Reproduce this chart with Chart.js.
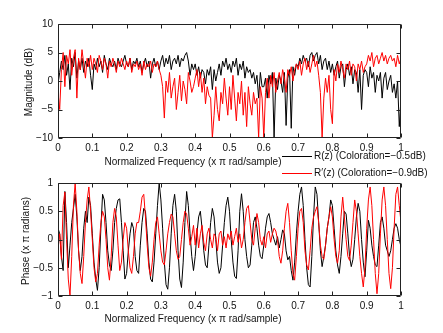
<!DOCTYPE html>
<html>
<head>
<meta charset="utf-8">
<script src="https://cdn.jsdelivr.net/npm/chart.js@4"></script>
<style>
body { margin:0; background:#fff; width:443px; height:333px; position:relative; overflow:hidden;
  font-family:"Liberation Sans", Arial, sans-serif; font-size:10px; color:#111; }
canvas { position:absolute; left:0; }
#magChart { top:0; }
#phaseChart { top:170px; }
.lbl { position:absolute; white-space:nowrap; line-height:12px; }
.xt { transform:translateX(-50%); }
.yt { transform:translate(-50%,-50%) rotate(-90deg); }
.key { position:absolute; width:30px; height:0; }
</style>
</head>
<body>
<canvas id="magChart" width="443" height="170"></canvas>
<canvas id="phaseChart" width="443" height="163"></canvas>

<div class="lbl yt" style="left:29px; top:82px">Magnitude (dB)</div>
<div class="lbl xt" style="left:193px; top:156px">Normalized Frequency (x π rad/sample)</div>
<div class="lbl yt" style="left:26px; top:241px">Phase (x π radians)</div>
<div class="lbl xt" style="left:193px; top:313px">Normalized Frequency (x π rad/sample)</div>

<div class="key" style="left:282px; top:156px; border-top:1px solid #000"></div>
<div class="lbl" style="left:314px; top:150px">R(z) (Coloration=−0.5dB)</div>
<div class="key" style="left:282px; top:173px; border-top:1px solid #f00"></div>
<div class="lbl" style="left:314px; top:167px">R′(z) (Coloration=−0.9dB)</div>

<script>
//data (frequency grid 0..1 step 0.005)
const freq = [];
for (let i = 0; i <= 200; i++) freq.push(i * 0.005);

const magR = [
  -0.5, 1.5, 3.5, 2, 4.5, 1, 3, -1.5, 4, 2.5, 5, 0.5, 3.5, 2, 4, 1.5, 3.5, 2.5, 4, 1,
  -1.5, 3, 2, 4, 2.5, 3.5, 1.5, 4.5, 3, 2, 4, 3, 2.5, 3.5, 2, 4, 3, 2.5, 3.5, 4.5,
  3, 2.5, 4, 2, 3.5, 3, 4, 2.5, 3.5, 1.5, 3, 4, 2.5, 3.5, 0.5, 3, 4, 2.5, 3.5, 2,
  3.5, 4.5, 2.5, 4, 3, 4.5, 2, 3.5, 4, 3, 4.5, 2.5, 4, 3.5, 4.5, 5, 3.5, 1, 3, 2,
  3, 1, 2.5, 0.5, 2, 1.5, -0.5, 2, 1, 2.5, -1.5, 2, 0, 1.5, 3, 1, 3.5, 2.5, 4, 2,
  3, 1.5, 3.5, 2.5, 4, 1, 3, 2, 3.5, 0.5, 2.5, 1.5, 2, 0.5, 1.5, -0.5, 1, -3, 1.5, -1,
  -1, 0.5, -3, 1, -0.5, 1.5, -10, 0.5, -1.5, 1, 0, -2, 1.5, -7.8, 0.5, 2, -8.3, 2.5, 1, 3,
  2.5, 4, 3, 4.5, 3.5, 4, 2.5, 4.5, 5, 3.5, 4.5, 5, 3, 4.5, 2, 3.5, 4, 2, 3.5, 1.5,
  3, 1, 2.5, 3.5, 0.5, 2.5, 3, -1, 2, 3, 1, 2.5, -0.5, 2, 1.5, -2, 2, -5, 1, 2,
  1.5, -1, 2.5, 0.5, 1.5, -2, 1, 0, 1.5, -3, 0.5, 1.5, -1.5, 0, 1, -2, -0.5, -3, 0, -8, -3
];

const magRp = [
  -2, -5, 2, 5, -1, 4.5, 3, 5.5, 1, 4, 5.5, -3, 4, 2, 5.5, 3, 0.5, 4, 2.5, 4.5,
  2, 4, 3, 1.5, 4.5, 3.5, 2, 4, 3, 0.5, 3.5, 2.5, 4, 3, 1.5, 3.5, 2.5, 4, 3, 2,
  3.5, 2.5, 4, 1.5, 3, 2.5, 3.5, 2, 3, 1, 3.5, 2, 3, 2.5, 3.5, 1.5, 3, 2.5, 3.5, 2,
  1, -1, -6.5, 0, -2, 1.5, -3, -1, 0.5, -5, -2, 1, -3.5, 0, -1.5, -4, 1.5, 0, -2, -1,
  0.5, 2, -1, 1.5, -2, 0.5, -4, -1, -2.5, -3, -10, -6, -1, -5, -7, -2, -4, 0.5, -3, -6,
  -1, -5, 1, -3, -7, -2, -4, 0, -6, -2, -8, -1, -4, -6, -2, -4, -3, -10, -1, -3,
  -10, -2, 0.5, -3, 1, -1, 1.5, -2, 0, 1.5, -0.5, 2, 0.5, -2, 2, 1, 2.5, 0, 2, 3,
  2, 3.5, 1, 3, 4, 2, 3.5, 1.5, 3, 4.5, 2.5, 3.5, 1, -2, -10, -3, 0.5, -2, 1, -5,
  -7.5, 2, 0, 3, 1.5, 3.5, 2, 0.5, 3, 2, 3.5, 1, 3, 2.5, 0, 3, 2, 3.5, 1.5, 2.5,
  3, 4.5, 3.5, 5, 2.5, 4, 4.5, 3, 4, 5, 3.5, 4.5, 3, 4, 4.5, 3.5, 4, 2.5, 4.5, 3, 4
];

const phaseR = [
  0.2, 0.1, -0.3, -0.55, 0.85, 0.3, -0.5, -0.1, 0.3, 0.55, 0.8, 0.4, -0.2, -0.55, -0.3, 0.2, 0.5, 0.3, 0.75, 0.6,
  0.1, -0.4, -0.7, -0.9, -0.5, 0.2, 0.8, 0.7, 0.3, -0.2, -0.45, -0.55, -0.2, 0.3, 0.55, 0.7, 0.72, 0.3, -0.2, -0.7,
  -0.6, -0.2, 0.1, 0.3, 0.2, -0.3, -0.55, -0.6, -0.1, 0.3, 0.55, 0.5, 0.1, -0.4, -0.7, -0.75, -0.4, 0.1, 0.6, 1.0,
  0.7, 0.2, -0.4, -0.8, -0.88, -0.5, 0.1, 0.6, 0.8, 0.5, -0.2, -0.7, -0.85, -0.4, 0.3, 0.85, 0.6, 0.1, -0.3, -0.55,
  -0.3, 0.1, 0.4, 0.5, 0.2, -0.2, -0.45, -0.5, -0.1, 0.3, 0.55, 0.4, 0.0, -0.4, -0.6, -0.5, -0.1, 0.3, 0.6, 0.75,
  0.5, 0.0, -0.4, -0.65, -0.69, -0.2, 0.5, 0.81, 0.5, 0.0, -0.3, -0.5, -0.45, -0.1, 0.3, 0.4, 0.2, -0.1, -0.3, -0.34,
  -0.1, 0.2, 0.4, 0.46, 0.3, 0.1, 0.0, -0.1, 0.05, -0.15, 0.0, 0.17, 0.1, -0.2, -0.36, -0.3, -0.55, -0.72, -0.4, 0.1,
  0.5, 0.8, 0.93, 0.6, 0.0, -0.5, -0.8, -0.84, -0.3, 0.4, 0.93, 0.8, 0.3, -0.2, -0.48, -0.3, -0.1, 0.2, 0.4, 0.7,
  0.6, 0.2, -0.2, -0.45, -0.6, -0.3, 0.1, 0.5, 0.45, 0.1, -0.3, -0.48, -0.35, 0.0, 0.4, 0.64, 0.5, 0.0, -0.4, -0.66,
  -0.2, 0.34, 0.2, -0.1, -0.3, -0.45, -0.48, -0.1, 0.3, 0.4, 0.2, -0.1, -0.2, -0.3, -0.2, 0.0, 0.2, 0.28, 0.2, 0.0, -0.13
];

const phaseRp = [
  -0.1, 0.1, -0.35, 0.6, 0.84, 0.0, -0.7, -1.0, -0.3, 0.6, 1.0, 0.5, -0.2, -0.6, -0.78, -0.3, 0.3, 0.7, 0.93, 0.5,
  0.0, -0.5, -0.75, -0.6, -0.1, 0.3, 0.5, 0.4, 0.0, -0.5, -0.72, -0.3, 0.3, 0.55, 0.4, -0.1, -0.55, -0.4, 0.0, 0.3,
  0.2, -0.2, -0.5, -0.6, -0.3, 0.1, 0.3, 0.3, 0.5, 0.75, 0.8, 0.4, -0.1, -0.5, -0.65, -0.4, 0.0, 0.3, 0.4, 0.1,
  -0.2, -0.4, -0.45, -0.2, 0.1, 0.3, 0.45, 0.4, 0.1, -0.2, -0.35, -0.3, 0.0, 0.3, 0.5, 0.45, 0.2, -0.1, 0.05, 0.25,
  -0.1, 0.2, -0.15, 0.1, 0.25, -0.05, -0.2, 0.1, 0.2, 0.0, -0.15, 0.1, 0.05, -0.2, 0.1, 0.15, -0.1, 0.05, -0.15, 0.1,
  0.0, 0.15, -0.1, 0.05, 0.2, -0.05, 0.1, -0.15, 0.0, 0.3, 0.55, 0.6, 0.3, 0.0, -0.1, 0.2, 0.46, 0.3, 0.0, -0.1,
  0.05, -0.15, 0.1, 0.15, -0.05, 0.1, 0.2, 0.15, 0.0, -0.3, -0.42, -0.2, 0.2, 0.5, 0.64, 0.3, -0.2, -0.6, -0.72, -0.3,
  0.2, 0.5, 0.55, 0.3, -0.2, -0.45, -0.54, -0.2, 0.2, 0.4, 0.5, 0.58, 0.3, -0.1, -0.3, -0.35, -0.1, 0.2, 0.4, 0.58,
  0.4, 0.0, -0.3, -0.42, -0.2, 0.4, 0.75, 0.4, 0.0, -0.3, -0.37, -0.1, 0.3, 0.7, 0.5, 0.1, -0.3, -0.6, -0.84, -0.5,
  0.2, 0.7, 0.93, 0.6, 0.0, -0.6, -0.96, -0.6, 0.1, 0.7, 0.93, 0.6, 0.0, -0.6, -0.87, -0.5, 0.2, 0.8, 0.93, 0.6, 0.3
];

const magTicks = [-10, -5, 0, 5, 10];
const phaseTicks = [-1, -0.5, 0, 0.5, 1];

Chart.defaults.font.family = '"Liberation Sans", Arial, sans-serif';
Chart.defaults.font.size = 10;
Chart.defaults.color = '#111';

function pts(vals) {
    return vals.map((v, i) => ({ x: freq[i], y: v }));
}

function fmt(v) {
    let r = Math.round(v * 10) / 10;
    return String(r).replace('-', '\u2212');
}

//box round the axes with ticks pointing inward
const boxTicks = {
    id: 'boxTicks',
    afterDatasetsDraw(chart) {
        const ctx = chart.ctx;
        const a = chart.chartArea;
        const x = chart.scales.x, y = chart.scales.y;
        const L = Math.round(a.left) + 0.5, R = Math.round(a.right) - 0.5;
        const T = Math.round(a.top) + 0.5, B = Math.round(a.bottom) - 0.5;
        ctx.save();
        ctx.strokeStyle = '#222';
        ctx.lineWidth = 1;
        ctx.beginPath();
        ctx.rect(L, T, R - L, B - T);
        x.ticks.forEach(t => {
            const p = Math.round(x.getPixelForValue(t.value)) + 0.5;
            ctx.moveTo(p, B); ctx.lineTo(p, B - 4);
            ctx.moveTo(p, T); ctx.lineTo(p, T + 4);
        });
        y.ticks.forEach(t => {
            const p = Math.round(y.getPixelForValue(t.value)) + 0.5;
            ctx.moveTo(L, p); ctx.lineTo(L + 4, p);
            ctx.moveTo(R, p); ctx.lineTo(R - 4, p);
        });
        ctx.stroke();
        ctx.restore();
    }
};

function makeChart(id, red, black, yTicks, padTop, xHeight) {
    const ctx = document.getElementById(id).getContext('2d');
    return new Chart(ctx, {
        type: 'line',
        data: {
            datasets: [
                { data: pts(red), borderColor: '#ff0000', borderWidth: 1, pointRadius: 0, tension: 0 },
                { data: pts(black), borderColor: '#000000', borderWidth: 1, pointRadius: 0, tension: 0 }
            ]
        },
        options: {
            responsive: false,
            animation: false,
            devicePixelRatio: 1,
            layout: { padding: { top: padTop, right: 42, left: 0, bottom: 0 } },
            plugins: { legend: { display: false }, tooltip: { enabled: false } },
            scales: {
                x: {
                    type: 'linear', min: 0, max: 1,
                    grid: { display: false, drawTicks: false },
                    border: { display: false },
                    ticks: { stepSize: 0.1, padding: 4, maxRotation: 0, autoSkip: false, callback: v => fmt(v) },
                    afterFit: s => { s.height = xHeight; }
                },
                y: {
                    min: yTicks[0], max: yTicks[yTicks.length - 1],
                    grid: { display: false, drawTicks: false },
                    border: { display: false },
                    ticks: { stepSize: yTicks[1] - yTicks[0], padding: 5, callback: v => fmt(v) },
                    afterFit: s => { s.width = 58; }
                }
            }
        },
        plugins: [boxTicks]
    });
}

makeChart('magChart', magRp, magR, magTicks, 24, 32);
makeChart('phaseChart', phaseRp, phaseR, phaseTicks, 13, 37);
</script>
</body>
</html>
